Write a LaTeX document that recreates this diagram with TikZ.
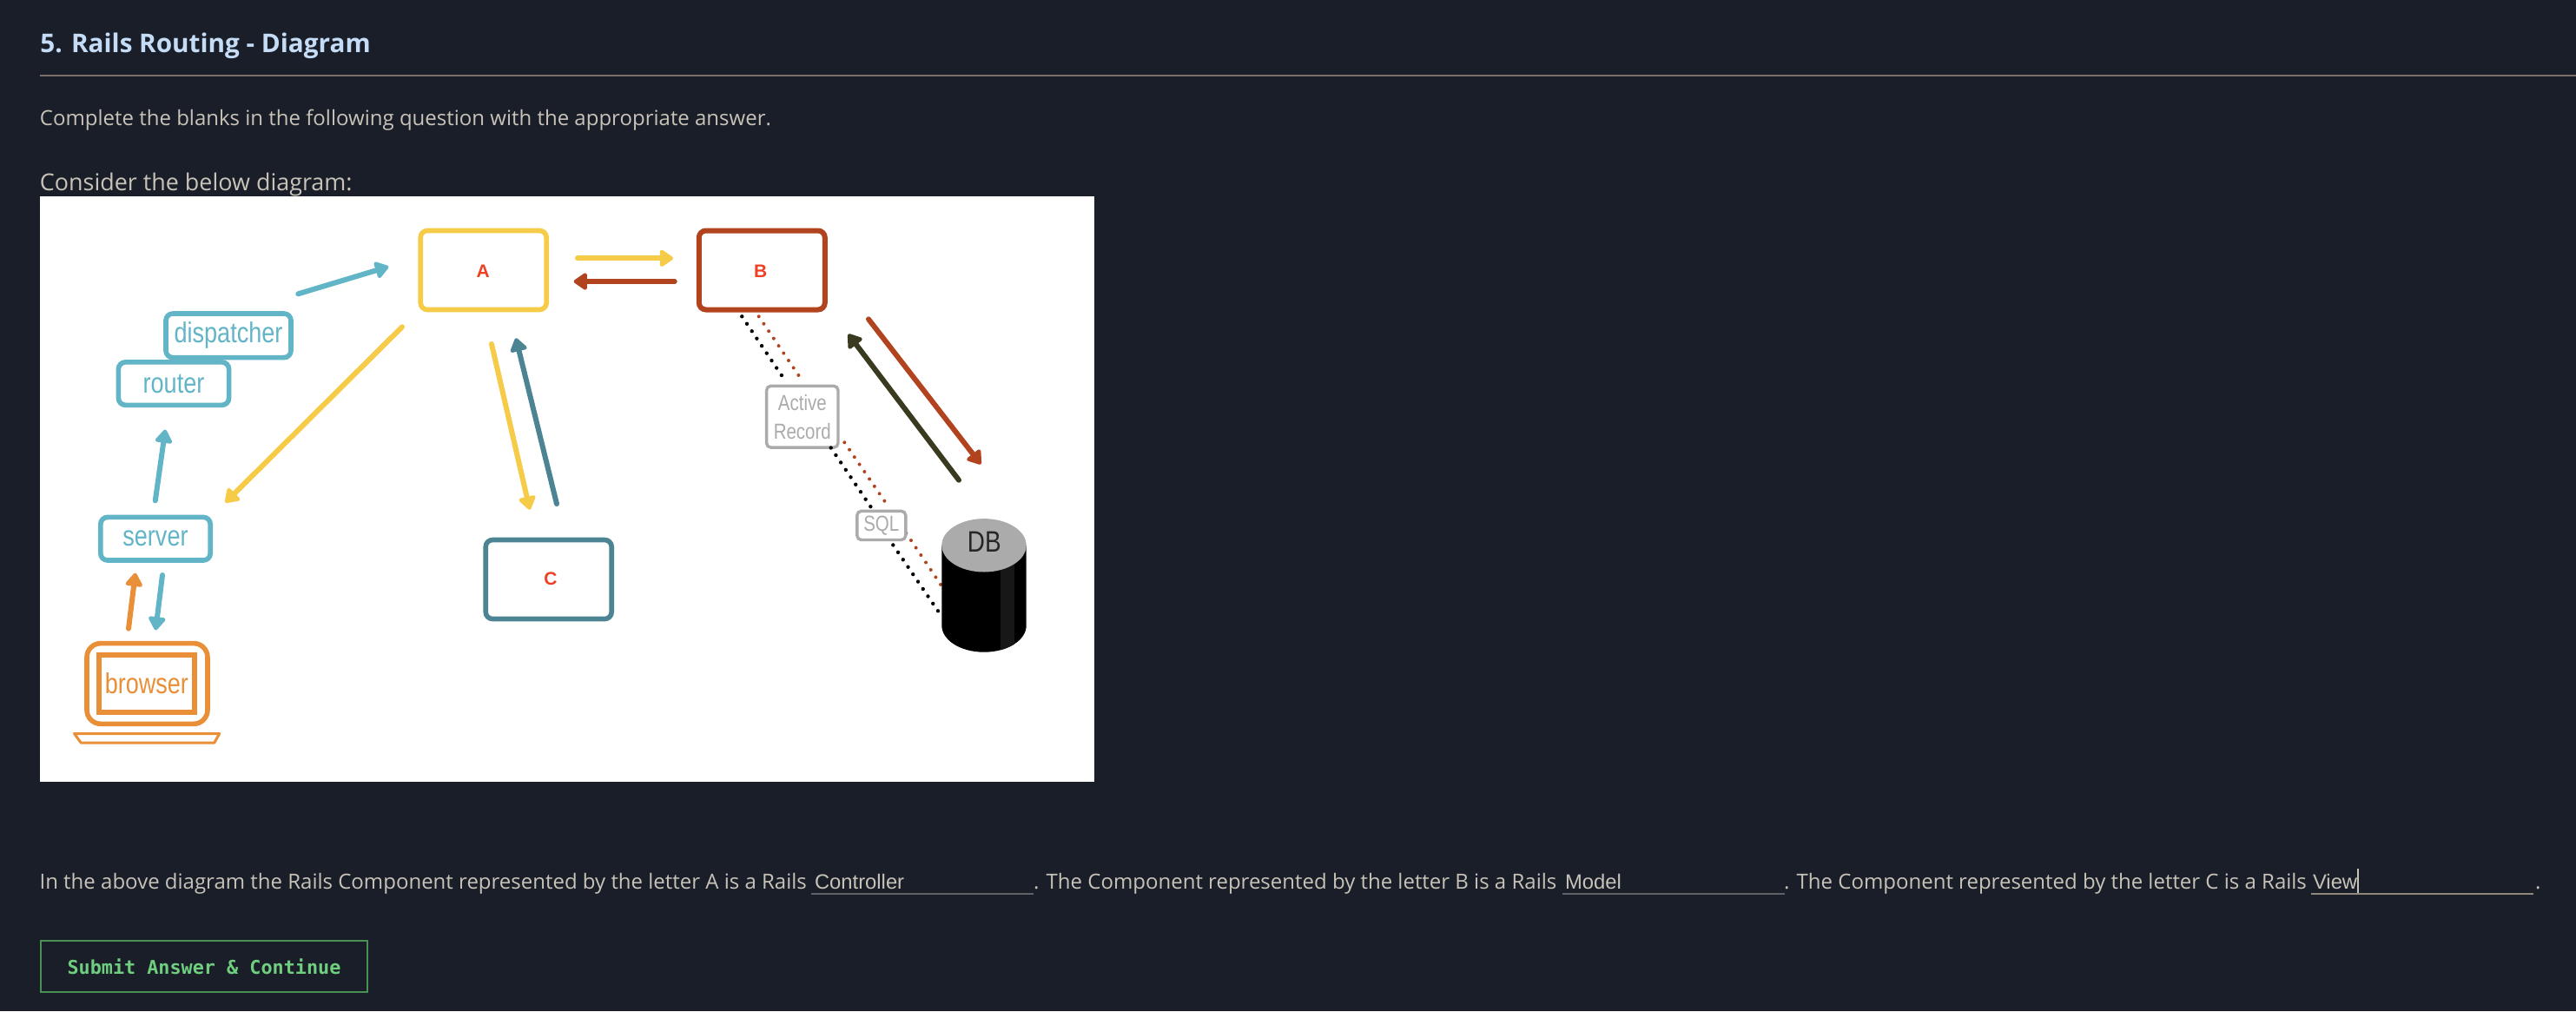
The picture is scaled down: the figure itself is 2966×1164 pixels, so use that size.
\documentclass[tikz,border=0pt]{standalone}
\usepackage{fontspec}
\usetikzlibrary{arrows.meta}
\setmainfont{Open Sans}
\newfontfamily\diagfont[FakeStretch=0.82]{Liberation Sans}
\newfontfamily\letterfont{Liberation Sans}
\newfontfamily\inputfont{Liberation Sans}
\newfontfamily\btnfont{DejaVu Sans Mono}
\definecolor{pagebg}{HTML}{1A1E29}
\definecolor{titlecol}{HTML}{C5DCF6}
\definecolor{bodycol}{HTML}{C8C3B8}
\definecolor{rulecol}{HTML}{7A7068}
\definecolor{inputline}{HTML}{5E6264}
\definecolor{inputactive}{HTML}{8E887C}
\definecolor{btnline}{HTML}{4A8F55}
\definecolor{btntext}{HTML}{6FCF7F}
\definecolor{cteal}{HTML}{62B5C6}
\definecolor{cyellow}{HTML}{F6CB47}
\definecolor{corange}{HTML}{E88F37}
\definecolor{cdteal}{HTML}{4D8493}
\definecolor{cred}{HTML}{B1431F}
\definecolor{cdark}{HTML}{3A3A20}
\definecolor{cletter}{HTML}{EE4024}
\definecolor{cgrey}{HTML}{ABABAB}
\tikzset{
  txt/.style={anchor=base west,inner sep=0pt,outer sep=0pt,text=bodycol,font=\fontsize{12pt}{15pt}\selectfont},
  inputtxt/.style={anchor=base west,inner sep=0pt,outer sep=0pt,text=bodycol,font=\inputfont\fontsize{11.9pt}{15pt}\selectfont},
  bigbox/.style={draw,rounded corners=4pt,line width=2.8pt,minimum width=72.5pt,minimum height=45.5pt,inner sep=0pt,fill=white},
  letter/.style={inner sep=0pt,text=cletter,font=\letterfont\bfseries\fontsize{10.5pt}{12pt}\selectfont},
  smallbox/.style={draw=cteal,rounded corners=4pt,line width=2.8pt,inner sep=0pt,fill=white,text=cteal,font=\diagfont\fontsize{16.5pt}{18pt}\selectfont},
  greybox/.style={draw=cgrey,rounded corners=2.5pt,line width=1.7pt,inner sep=0pt,fill=white,text=cgrey,align=center,font=\diagfont\fontsize{12.5pt}{16.5pt}\selectfont},
  arr/.style={line width=3pt,line cap=round,-{Triangle[length=8.5pt,width=11pt,round]}},
  dots/.style={line width=2.2pt,line cap=round,dash pattern=on 0pt off 5.1pt},
  rdots/.style={line width=2pt,line cap=round,dash pattern=on 0pt off 5.1pt},
  inputrule/.style={line width=1pt,draw=inputline}
}
\begin{document}
\begin{tikzpicture}[x=0.5pt,y=-0.5pt]
\useasboundingbox (0,0) rectangle (2966,1164);
\fill[pagebg] (0,0) rectangle (2966,1164);

% heading
\node[anchor=base west,inner sep=0pt,text=titlecol,font=\bfseries\fontsize{14.85pt}{18pt}\selectfont] (title) at (46,60.7) {5. Rails Routing - Diagram};
\coordinate (ruleL) at (46,87);
\coordinate (ruleR) at (2966,87);
\draw[rulecol,line width=1pt] (ruleL) -- (ruleR);
\node[txt] (intro) at (46,144) {Complete the blanks in the following question with the appropriate answer.};
\node[txt,font=\fontsize{13.45pt}{18pt}\selectfont] (consider) at (46,219) {Consider the below diagram:};

% white panel
\fill[white] (46,226) rectangle (1260,900);

% coordinates of free arrow ends
\coordinate (a1s) at (343.3,338.3); \coordinate (a1e) at (447.3,307);
\coordinate (a2s) at (463,376.3);   \coordinate (a2e) at (259.5,578.5);
\coordinate (a3s) at (178.8,576.3); \coordinate (a3e) at (190.3,494.6);
\coordinate (a4s) at (148,723.6);   \coordinate (a4e) at (155.9,659.7);
\coordinate (a5s) at (187,662);     \coordinate (a5e) at (179.2,725.4);
\coordinate (a6s) at (665,297.3);   \coordinate (a6e) at (775,297.3);
\coordinate (a7s) at (776.7,324);   \coordinate (a7e) at (660.7,324);
\coordinate (a8s) at (566,396);     \coordinate (a8e) at (610,586.7);
\coordinate (a9s) at (641,580);     \coordinate (a9e) at (594,389.3);
\coordinate (a10s) at (1000,367.4); \coordinate (a10e) at (1129.3,534.4);
\coordinate (a11s) at (1104,552.7); \coordinate (a11e) at (976.7,384.6);

% dotted links
\coordinate (k1s) at (854.3,364.3);  \coordinate (k1e) at (903.7,437.7);
\coordinate (r1s) at (873.7,364.3);  \coordinate (r1e) at (923.3,437.7);
\coordinate (k2s) at (956.7,515.5);  \coordinate (k2e) at (1006,588.5);
\coordinate (r2s) at (972.3,509.3);  \coordinate (r2e) at (1022.7,583);
\coordinate (k3s) at (1028.3,627.4); \coordinate (k3e) at (1082.7,707.3);
\coordinate (r3s) at (1043.3,613.6); \coordinate (r3e) at (1083.3,673.2);

% large boxes
\node[bigbox,draw=cyellow] (A) at (556.7,311) {};
\node[letter] (Al) at (556.3,312) {A};
\node[bigbox,draw=cred,line width=3pt] (B) at (877.3,311) {};
\node[letter] (Bl) at (875.7,312) {B};
\node[bigbox,draw=cdteal] (C) at (631.7,667) {};
\node[letter] (Cl) at (634,666) {C};

% stacked small boxes
\node[smallbox,minimum width=72pt,minimum height=25.3pt] (dispatcher) at (263,386.3) {\raisebox{-0.6pt}{dispatcher}};
\node[smallbox,minimum width=63.6pt,minimum height=24.7pt] (router) at (200,441.6) {router};
\node[smallbox,minimum width=63.2pt,minimum height=24.8pt] (server) at (179,620.2) {\raisebox{-0.6pt}{server}};

% browser laptop
\draw[corange,line width=2.8pt,rounded corners=8pt] (100,740.6) rectangle (239,833.3);
\node[draw=corange,line width=2.8pt,inner sep=0pt,minimum width=55pt,minimum height=33pt,text=corange,font=\diagfont\fontsize{16.5pt}{18pt}\selectfont] (browser) at (168.9,787) {browser};
\draw[corange,line width=1.5pt,line join=round] (85.5,844.5) -- (252.7,844.5) -- (246.8,855) -- (93.2,855) -- cycle;

% dotted lines and grey label boxes
\draw[cred,rdots] (r1s) -- (r1e);
\draw[black,dots] (k1s) -- (k1e);
\draw[cred,rdots] (r2s) -- (r2e);
\draw[cred,rdots] (r3s) -- (r3e);
\draw[black,dots] (k3s) -- (k3e);
\node[greybox,minimum width=41.2pt,minimum height=35.4pt] (ar) at (923.8,479.7) {Active\\Record};
\node[greybox,minimum width=28pt,minimum height=16.6pt] (sql) at (1014.8,604.9) {SQL};
\draw[black,dots] (k2s) -- (k2e);

% database
\fill[black] (1084.3,627.8) -- (1084.3,720) arc[start angle=180,end angle=0,x radius=48.7,y radius=30.7] -- (1181.7,627.8) -- cycle;
\begin{scope}
\clip (1084.3,627.8) -- (1084.3,720) arc[start angle=180,end angle=0,x radius=48.7,y radius=30.7] -- (1181.7,627.8) -- cycle;
\fill[black!91] (1151.7,640) rectangle (1168.3,760);
\end{scope}
\fill[cgrey] (1133,627.8) ellipse[x radius=48.7,y radius=30.7];
\node[inner sep=0pt,text=black!85,font=\diagfont\fontsize{17pt}{19pt}\selectfont] (db) at (1133.3,624) {DB};

% arrows
\draw[arr,cteal] (a1s) -- (a1e);
\draw[arr,cyellow] (a2s) -- (a2e);
\draw[arr,cteal] (a3s) -- (a3e);
\draw[arr,corange] (a4s) -- (a4e);
\draw[arr,cteal] (a5s) -- (a5e);
\draw[arr,cyellow] (a6s) -- (a6e);
\draw[arr,cred] (a7s) -- (a7e);
\draw[arr,cyellow] (a8s) -- (a8e);
\draw[arr,cdteal] (a9s) -- (a9e);
\draw[arr,cred] (a10s) -- (a10e);
\draw[arr,cdark] (a11s) -- (a11e);

% question sentence
\node[txt] (q1) at (45.6,1023) {In the above diagram the Rails Component represented by the letter A is a Rails};
\node[inputtxt] (ans1) at (938,1023) {Controller};
\coordinate (u1a) at (934,1029); \coordinate (u1b) at (1190,1029);
\draw[inputrule] (u1a) -- (u1b);
\node[txt] (q2) at (1190,1023) {. The Component represented by the letter B is a Rails};
\node[inputtxt] (ans2) at (1802,1023) {Model};
\coordinate (u2a) at (1799,1029); \coordinate (u2b) at (2055,1029);
\draw[inputrule] (u2a) -- (u2b);
\node[txt] (q3) at (2054,1023) {. The Component represented by the letter C is a Rails};
\node[inputtxt] (ans3) at (2663,1023) {View};
\coordinate (u3a) at (2661,1029); \coordinate (u3b) at (2917,1029);
\draw[inputrule,draw=inputactive] (u3a) -- (u3b);
\coordinate (caretT) at (2715,1000); \coordinate (caretB) at (2715,1028);
\draw[bodycol,line width=0.8pt] (caretT) -- (caretB);
\node[txt] (q4) at (2919,1023) {.};

% button
\node[draw=btnline,line width=1pt,minimum width=188pt,minimum height=29.8pt,inner sep=0pt,text=btntext,font=\btnfont\bfseries\fontsize{10.9pt}{13pt}\selectfont] (submit) at (235,1112.5) {Submit Answer \& Continue};
\end{tikzpicture}
\end{document}
